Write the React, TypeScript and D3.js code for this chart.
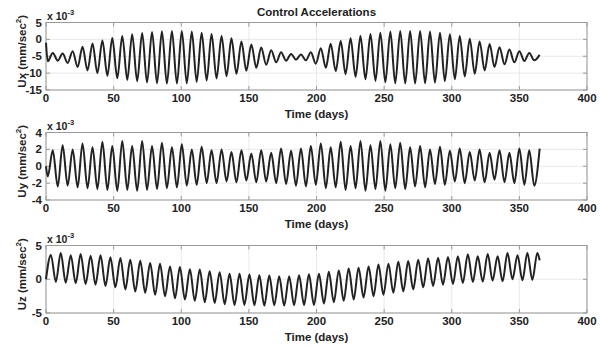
import React from "react";
import * as d3 from "d3";

// x ticks (days)
const xTicks = [0, 50, 100, 150, 200, 250, 300, 350, 400];
const uxTicks = [-15, -10, -5, 0, 5];
const uyTicks = [-4, -2, 0, 2, 4];
const uzTicks = [-5, 0, 5];

// days of the extremes (start, trough, peak, ... , end) for Ux and Uy
const daysXY = [0, 1.3, 5.0, 8.7, 12.3, 16.0, 19.7, 23.4, 27.0, 30.7, 34.4, 38.0, 41.7, 45.4, 49.0, 52.7, 56.4, 60.1, 63.7, 67.4, 71.1, 74.7, 78.4, 82.1, 85.7, 89.4, 93.1, 96.8, 100.4, 104.1, 107.8, 111.4, 115.1, 118.8, 122.4, 126.1, 129.8, 133.5, 137.1, 140.8, 144.5, 148.1, 151.8, 155.5, 159.1, 162.8, 166.5, 170.2, 173.8, 177.5, 181.2, 184.8, 188.5, 192.2, 195.8, 199.5, 203.2, 206.9, 210.5, 214.2, 217.9, 221.5, 225.2, 228.9, 232.5, 236.2, 239.9, 243.6, 247.2, 250.9, 254.6, 258.2, 261.9, 265.6, 269.2, 272.9, 276.6, 280.3, 283.9, 287.6, 291.3, 294.9, 298.6, 302.3, 305.9, 309.6, 313.3, 317.0, 320.6, 324.3, 328.0, 331.6, 335.3, 339.0, 342.6, 346.3, 350.0, 353.7, 357.3, 361.0, 365];

// Ux (x1e-3 mm/sec^2): start, then trough/peak pairs, last trough, end
const uxValues = [-1.0,
  -6.5, -4.0, -6.3, -4.2, -7.0, -3.5, -8.2, -2.2, -9.2, -1.2,
  -10.0, -0.3, -10.8, 0.4, -11.5, 1.0, -12.0, 1.5, -12.4, 1.9,
  -12.8, 2.2, -13.0, 2.4, -13.1, 2.5, -13.1, 2.5, -13.0, 2.3,
  -12.6, 2.0, -12.2, 1.6, -11.6, 1.0, -10.9, 0.3, -10.2, -0.6,
  -9.3, -1.5, -8.4, -2.4, -7.5, -3.2, -6.8, -3.8, -6.3, -4.3,
  -6.0, -4.5, -6.2, -3.8, -7.2, -2.6, -8.4, -1.3, -9.4, -0.5,
  -10.3, 0.3, -11.1, 1.0, -11.8, 1.6, -12.3, 2.0, -12.7, 2.3,
  -13.0, 2.5, -13.1, 2.5, -13.1, 2.5, -13.0, 2.3, -12.8, 2.0,
  -12.4, 1.5, -11.8, 1.0, -11.0, 0.2, -10.2, -0.6, -9.2, -1.4,
  -8.2, -2.3, -7.4, -3.0, -6.8, -3.5, -6.4, -4.0,
  -6.2, -4.6];

// Uy
const uyValues = [0,
  -1.2, 1.9, -2.4, 2.5, -2.3, 2.0, -2.5, 2.7, -2.6, 2.25,
  -2.7, 2.9, -2.8, 2.4, -2.9, 3.0, -2.8, 2.4, -2.9, 3.0,
  -2.8, 2.4, -2.7, 2.8, -2.6, 2.25, -2.5, 2.6, -2.3, 2.0,
  -2.2, 2.3, -2.0, 1.9, -2.0, 2.0, -1.8, 1.7, -1.9, 1.9,
  -1.7, 1.5, -1.9, 1.9, -1.8, 1.6, -2.0, 2.1, -2.1, 1.85,
  -2.3, 2.1, -2.4, 2.4, -2.2, 2.7, -2.6, 2.25, -2.5, 2.9,
  -2.8, 2.4, -2.6, 3.0, -2.9, 2.5, -2.7, 3.0, -2.9, 2.6,
  -2.6, 2.8, -2.7, 2.25, -2.4, 2.4, -2.5, 2.0, -2.1, 2.3,
  -2.2, 1.85, -1.8, 2.1, -2.0, 1.7, -1.7, 2.0, -1.9, 1.6,
  -1.6, 1.9, -1.9, 1.6, -2.0, 2.1, -2.2, 1.9,
  -2.3, 2.1];

// days of the extremes (start, peak, trough, ... , end) for Uz
const daysZ = [0, 3.6, 7.3, 10.9, 14.6, 18.3, 22.0, 25.6, 29.3, 33.0, 36.6, 40.3, 44.0, 47.6, 51.3, 55.0, 58.7, 62.3, 66.0, 69.7, 73.3, 77.0, 80.7, 84.3, 88.0, 91.7, 95.4, 99.0, 102.7, 106.4, 110.0, 113.7, 117.4, 121.0, 124.7, 128.4, 132.1, 135.7, 139.4, 143.1, 146.7, 150.4, 154.1, 157.7, 161.4, 165.1, 168.8, 172.4, 176.1, 179.8, 183.4, 187.1, 190.8, 194.4, 198.1, 201.8, 205.5, 209.1, 212.8, 216.5, 220.1, 223.8, 227.5, 231.1, 234.8, 238.5, 242.2, 245.8, 249.5, 253.2, 256.8, 260.5, 264.2, 267.8, 271.5, 275.2, 278.9, 282.5, 286.2, 289.9, 293.5, 297.2, 300.9, 304.5, 308.2, 311.9, 315.6, 319.2, 322.9, 326.6, 330.2, 333.9, 337.6, 341.2, 344.9, 348.6, 352.3, 355.9, 359.6, 363.3, 365];

// Uz: start, then peak/trough pairs, last peak, end
const uzValues = [0,
  3.6, -0.4, 3.9, -0.5, 3.55, -0.6, 3.75, -0.7, 3.5, -0.8,
  3.55, -1.0, 3.25, -1.2, 3.15, -1.5, 2.9, -1.8, 2.75, -2.0,
  2.4, -2.3, 2.3, -2.5, 1.9, -2.8, 1.8, -3.0, 1.5, -3.2,
  1.45, -3.4, 1.2, -3.5, 1.05, -3.7, 0.8, -3.8, 0.8, -3.8,
  0.7, -3.85, 0.6, -3.9, 0.55, -3.85, 0.45, -3.9, 0.45, -3.85,
  0.6, -3.8, 0.75, -3.8, 0.8, -3.6, 1.1, -3.4, 1.3, -3.2,
  1.6, -3.0, 1.7, -2.7, 1.9, -2.5, 2.2, -2.3, 2.3, -2.0,
  2.6, -1.8, 2.7, -1.5, 2.9, -1.2, 3.1, -1.0, 3.2, -0.8,
  3.3, -0.7, 3.4, -0.55, 3.7, -0.4, 3.4, -0.35, 3.75, -0.2,
  3.4, -0.3, 3.9, 0.0, 3.55, -0.15, 3.9, -0.1,
  3.9, 2.8];

const FONT = "'Liberation Sans', Arial, Helvetica, sans-serif";

type PanelDef = {
  name: string;
  days: number[];
  values: number[];
  domain: [number, number];
  ticks: number[];
  top: number;
};

const panels: PanelDef[] = [
  { name: "Ux", days: daysXY, values: uxValues, domain: [-15, 5], ticks: uxTicks, top: 22.5 },
  { name: "Uy", days: daysXY, values: uyValues, domain: [-4, 4], ticks: uyTicks, top: 132.5 },
  { name: "Uz", days: daysZ, values: uzValues, domain: [-5, 5], ticks: uzTicks, top: 245.5 },
];

const LEFT = 46;
const RIGHT = 587;
const H = 67.5;

function Panel({ p }: { p: PanelDef }) {
  const x = d3.scaleLinear().domain([0, 400]).range([LEFT, RIGHT]);
  const y = d3.scaleLinear().domain(p.domain).range([p.top + H, p.top]);
  const pts: [number, number][] = p.days.map((d, i) => [d, p.values[i]]);
  const line = d3
    .line<[number, number]>()
    .x((d) => x(d[0]))
    .y((d) => y(d[1]))
    .curve(d3.curveMonotoneX);
  const bottom = p.top + H;
  const cy = p.top + H / 2 - 5;
  return (
    <g>
      {/* grid */}
      {xTicks.map((t) => (
        <line key={"gx" + t} x1={x(t)} x2={x(t)} y1={p.top} y2={bottom} stroke="#e3e3e3" strokeWidth={0.8} />
      ))}
      {p.ticks.map((t) => (
        <line key={"gy" + t} x1={LEFT} x2={RIGHT} y1={y(t)} y2={y(t)} stroke="#e3e3e3" strokeWidth={0.8} />
      ))}
      {/* box */}
      <rect x={LEFT} y={p.top} width={RIGHT - LEFT} height={H} fill="none" stroke="#9a9a9a" strokeWidth={1} />
      {/* ticks */}
      {xTicks.map((t) => (
        <g key={"tx" + t}>
          <line x1={x(t)} x2={x(t)} y1={bottom} y2={bottom - 4} stroke="#9a9a9a" />
          <line x1={x(t)} x2={x(t)} y1={p.top} y2={p.top + 4} stroke="#9a9a9a" />
          <text x={x(t)} y={bottom + 12} textAnchor="middle" fontSize={11.5} fontWeight="bold" fill="#222">
            {t}
          </text>
        </g>
      ))}
      {p.ticks.map((t) => (
        <g key={"ty" + t}>
          <line x1={LEFT} x2={LEFT + 4} y1={y(t)} y2={y(t)} stroke="#9a9a9a" />
          <line x1={RIGHT} x2={RIGHT - 4} y1={y(t)} y2={y(t)} stroke="#9a9a9a" />
          <text x={LEFT - 4} y={y(t) + 4} textAnchor="end" fontSize={11.5} fontWeight="bold" fill="#222">
            {t}
          </text>
        </g>
      ))}
      {/* exponent */}
      <text x={LEFT + 1} y={p.top - 3} fontSize={10.5} fontWeight="bold" fill="#222">
        x 10
        <tspan dy={-5} fontSize={7.5}>-3</tspan>
      </text>
      {/* data */}
      <path d={line(pts) || ""} fill="none" stroke="#222" strokeWidth={2} strokeLinejoin="round" />
      {/* labels */}
      <text x={316.5} y={bottom + 28} textAnchor="middle" fontSize={11.5} fontWeight="bold" fill="#222">
        Time (days)
      </text>
      <text
        transform={`translate(26,${cy}) rotate(-90)`}
        textAnchor="middle"
        fontSize={11.5}
        fontWeight="bold"
        fill="#222"
      >
        {p.name} (mm/sec
        <tspan dy={-5} fontSize={8}>2</tspan>
        <tspan dy={5}>)</tspan>
      </text>
    </g>
  );
}

export default function App() {
  return (
    <svg
      width={600}
      height={347}
      style={{ position: "absolute", left: 0, top: 0, background: "#fff", fontFamily: FONT }}
      fontFamily={FONT}
    >
      <rect x={0} y={0} width={600} height={347} fill="#fff" />
      <text x={316.5} y={16} textAnchor="middle" fontSize={11.5} fontWeight="bold" fill="#222">
        Control Accelerations
      </text>
      {panels.map((p) => (
        <Panel key={p.name} p={p} />
      ))}
    </svg>
  );
}
